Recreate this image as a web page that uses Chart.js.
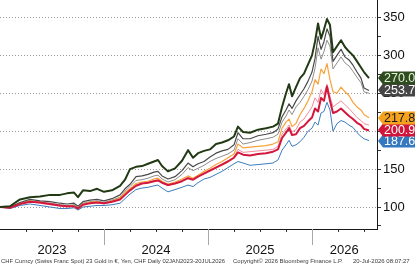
<!DOCTYPE html>
<html>
<head>
<meta charset="utf-8">
<script src="https://cdn.jsdelivr.net/npm/chart.js@4"></script>
<style>
  html, body { margin: 0; padding: 0; background: #fff; }
  canvas { display: block; }
</style>
</head>
<body>
<canvas id="goldChart" width="415" height="266"></canvas>
<script>
// sample dates as decimal years (02 Jan 2023 .. 20 Jul 2026)
const dates = [2023.000, 2023.096, 2023.192, 2023.288, 2023.385, 2023.481, 2023.577, 2023.644, 2023.712, 2023.750,
    2023.798, 2023.865, 2023.933, 2024.000, 2024.077, 2024.154, 2024.202, 2024.250, 2024.308, 2024.365,
    2024.423, 2024.481, 2024.519, 2024.558, 2024.615, 2024.683, 2024.750, 2024.808, 2024.856, 2024.904,
    2024.962, 2025.019, 2025.077, 2025.135, 2025.192, 2025.250, 2025.288, 2025.337, 2025.404, 2025.481,
    2025.558, 2025.625, 2025.673, 2025.712, 2025.750, 2025.779, 2025.808, 2025.846, 2025.885, 2025.923,
    2025.962, 2026.000, 2026.029, 2026.058, 2026.087, 2026.115, 2026.144, 2026.173, 2026.202, 2026.240,
    2026.279, 2026.317, 2026.356, 2026.394, 2026.433, 2026.471, 2026.500, 2026.548];

const seriesGreen = [100, 101, 110, 113, 114, 116, 116, 118, 119, 113, 122, 121, 124, 120, 122, 128, 136, 150, 153, 154,
    157, 160, 162, 154, 147, 151, 161, 175, 165, 171, 174, 176, 183, 185, 188, 193, 206, 199, 198, 202,
    204, 206, 210, 232, 250, 262, 246, 258, 270, 276, 288, 300, 318, 342, 322, 334, 348, 340, 304, 312,
    320, 311, 305, 300, 292, 284, 278, 270.0];

const seriesGray = [100, 100, 106, 110, 108, 107, 105, 104, 105, 101, 107, 109, 110, 108, 111, 116, 124, 130, 140, 141,
    143, 146, 147, 141, 137, 140, 148, 158, 153, 157, 160, 166, 171, 174, 176, 182, 198, 190, 190, 194,
    196, 198, 203, 219, 228, 236, 230, 240, 248, 256, 266, 278, 296, 325, 308, 318, 335, 325, 292, 300,
    308, 298, 294, 287, 278, 270, 257, 253.7];

const seriesLightGray = [100, 99, 105, 108, 106, 105, 103, 102, 103, 99, 105, 107, 108, 106, 109, 113, 121, 127, 135, 136,
    138, 141, 142, 137, 133, 136, 143, 152, 148, 151, 155, 160, 164, 167, 170, 175, 190, 183, 185, 188,
    190, 192, 196, 212, 220, 228, 222, 232, 238, 246, 255, 266, 283, 310, 295, 305, 320, 312, 282, 290,
    298, 290, 286, 279, 271, 264, 252, 250];

const seriesOrange = [100, 100, 105, 108, 106, 104, 102, 101, 102, 98, 104, 106, 107, 105, 108, 112, 119, 124, 131, 133,
    134, 137, 138, 134, 130, 133, 137, 141, 138, 142, 147, 151, 156, 160, 165, 170, 183, 178, 179, 180,
    181, 183, 186, 204, 212, 216, 206, 210, 222, 230, 240, 252, 268, 262, 282, 276, 289, 268, 252, 250,
    258, 252, 247, 238, 232, 228, 222, 217.8];

const seriesPink = [100, 99, 104, 107, 105, 103, 101, 100, 101, 97, 103, 105, 106, 104, 107, 111, 117, 122, 129, 131,
    132, 135, 136, 132, 128, 131, 135, 139, 136, 140, 145, 149, 153, 157, 161, 166, 176, 172, 173, 174,
    175, 176, 180, 196, 203, 208, 199, 202, 212, 216, 224, 232, 244, 238, 255, 248, 262, 246, 232, 236,
    240, 235, 230, 224, 218, 214, 210, 208];

const seriesRed = [100, 99, 104, 107, 106, 104, 102, 101, 101, 98, 103, 105, 106, 105, 107, 110, 116, 122, 128, 131,
    132, 134, 135, 132, 129, 131, 134, 138, 136, 140, 144, 148, 152, 156, 160, 165, 172, 169, 168, 170,
    171, 173, 176, 191, 198, 204, 195, 196, 204, 207, 213, 218, 230, 226, 244, 240, 259, 240, 224, 226,
    230, 225, 220, 216, 211, 208, 203, 200.9];

const seriesBlue = [100, 98, 102, 104, 102, 100, 98, 98, 99, 96, 100, 101, 102, 102, 103, 105, 111, 117, 123, 125,
    126, 128, 129, 125, 120, 123, 126, 129, 127, 132, 137, 139, 143, 147, 152, 157, 160, 158, 155, 156,
    157, 158, 162, 175, 182, 188, 180, 182, 186, 192, 200, 204, 212, 208, 224, 226, 238, 228, 200, 210,
    214, 212, 208, 205, 198, 193, 190, 187.6];

const yearLabels = ['2023', '2024', '2025', '2026'];
const yearLabelPos = [2023.5, 2024.5, 2025.5, 2026.31];
const yearStarts = [2024, 2025, 2026];
const yTicks = [75, 100, 125, 150, 175, 200, 225, 250, 275, 300, 325, 350];

const footerLeft = 'CHF Curncy (Swiss Franc Spot) 23 Gold in €, Yen, CHF Daily 02JAN2023-20JUL2026';
const footerMid = 'Copyright© 2026 Bloomberg Finance L.P.';
const footerRight = '20-Jul-2026 08:07:27';

function toPoints(values) {
    return values.map((v, i) => ({ x: dates[i], y: v }));
}

// dotted grid, axis line, year separators, end-value tags and the footer line
const bloombergDecor = {
    id: 'bloombergDecor',
    beforeDraw(chart) {
        const ctx = chart.ctx;
        ctx.save();
        ctx.fillStyle = '#fff';
        ctx.fillRect(0, 0, chart.width, chart.height);
        ctx.restore();
    },
    beforeDatasetsDraw(chart) {
        const ctx = chart.ctx;
        const ys = chart.scales.y;
        const area = chart.chartArea;
        ctx.save();
        ctx.strokeStyle = '#9a9a9a';
        ctx.lineWidth = 1;
        ctx.setLineDash([1, 2]);
        yTicks.filter(v => v % 50 === 0).forEach(v => {
            const py = Math.round(ys.getPixelForValue(v)) + 0.5;
            ctx.beginPath();
            ctx.moveTo(area.left, py);
            ctx.lineTo(area.right, py);
            ctx.stroke();
        });
        ctx.restore();
    },
    afterDraw(chart) {
        const ctx = chart.ctx;
        const xs = chart.scales.x;
        const ys = chart.scales.y;
        const area = chart.chartArea;

        ctx.save();
        ctx.strokeStyle = '#a8a8a8';
        ctx.lineWidth = 1;
        yearStarts.forEach(v => {
            const px = Math.round(xs.getPixelForValue(v)) + 0.5;
            ctx.beginPath();
            ctx.moveTo(px, area.bottom);
            ctx.lineTo(px, area.bottom + 16);
            ctx.stroke();
        });

        chart.data.datasets.filter(d => d.tag).sort((a, b) => a.tagOrder - b.tagOrder).forEach(d => {
            const last = d.data[d.data.length - 1].y;
            const y = Math.round(ys.getPixelForValue(last));
            const left = area.right + 1;
            ctx.fillStyle = d.tag.bg;
            ctx.beginPath();
            ctx.moveTo(left, y);
            ctx.lineTo(left + 5, y - 6.5);
            ctx.lineTo(chart.width, y - 6.5);
            ctx.lineTo(chart.width, y + 6.5);
            ctx.lineTo(left + 5, y + 6.5);
            ctx.closePath();
            ctx.fill();
            ctx.fillStyle = d.tag.fg;
            ctx.font = '12.5px "Liberation Sans", Arial, sans-serif';
            ctx.textBaseline = 'middle';
            ctx.textAlign = 'left';
            ctx.fillText(last.toFixed(1), left + 6, y + 1);
        });

        ctx.fillStyle = '#3a3a3a';
        ctx.font = '6px "Liberation Sans", Arial, sans-serif';
        ctx.textBaseline = 'middle';
        ctx.textAlign = 'left';
        ctx.fillText(footerLeft, 1, 261, 224);
        ctx.fillText(footerMid, 233, 261, 110);
        ctx.fillText(footerRight, 353, 261, 60);
        ctx.restore();
    }
};

document.addEventListener('DOMContentLoaded', () => {
    const ctx = document.getElementById('goldChart').getContext('2d');

    new Chart(ctx, {
        type: 'line',
        data: {
            datasets: [
                { label: 'green', data: toPoints(seriesGreen), borderColor: '#223a14', borderWidth: 2,
                  tag: { bg: '#2e4a1f', fg: '#e3f2d6' }, tagOrder: 5 },
                { label: 'red', data: toPoints(seriesRed), borderColor: '#d3173d', borderWidth: 2,
                  tag: { bg: '#d0143a', fg: '#ffffff' }, tagOrder: 2 },
                { label: 'gray', data: toPoints(seriesGray), borderColor: '#4a4a4a', borderWidth: 1.2,
                  tag: { bg: '#454545', fg: '#ffffff' }, tagOrder: 4 },
                { label: 'orange', data: toPoints(seriesOrange), borderColor: '#f8a33a', borderWidth: 1.2,
                  tag: { bg: '#f5a21f', fg: '#1a1a1a' }, tagOrder: 3 },
                { label: 'blue', data: toPoints(seriesBlue), borderColor: '#3c7dc0', borderWidth: 1,
                  tag: { bg: '#3478c0', fg: '#ffffff' }, tagOrder: 1 },
                { label: 'pink', data: toPoints(seriesPink), borderColor: '#f28c9c', borderWidth: 1 },
                { label: 'lightgray', data: toPoints(seriesLightGray), borderColor: '#8e8e8e', borderWidth: 1 }
            ]
        },
        options: {
            responsive: false,
            animation: false,
            layout: { padding: 0 },
            elements: {
                point: { radius: 0 },
                line: { tension: 0, borderJoinStyle: 'round' }
            },
            plugins: {
                legend: { display: false },
                tooltip: { enabled: false }
            },
            scales: {
                x: {
                    type: 'linear',
                    position: 'bottom',
                    min: 2023.0,
                    max: 2026.625,
                    afterBuildTicks: (scale) => {
                        const vals = [];
                        for (let q = 2023.25; q < 2026.6; q += 0.25) vals.push(q);
                        vals.push(2026.31);
                        scale.ticks = vals.map(v => ({ value: v }));
                    },
                    afterFit: (scale) => {
                        scale.height = 37;
                        scale.paddingLeft = 0;
                        scale.paddingRight = 0;
                    },
                    border: { display: true, color: '#1a1a1a', width: 1 },
                    grid: {
                        drawOnChartArea: false,
                        drawTicks: true,
                        tickLength: 3,
                        tickColor: (c) => Math.abs(c.tick.value - 2026.31) < 0.001 ? 'rgba(0,0,0,0)' : '#333'
                    },
                    ticks: {
                        autoSkip: false,
                        maxRotation: 0,
                        padding: 11,
                        color: '#111',
                        font: { family: '"Liberation Sans", Arial, sans-serif', size: 13 },
                        callback: (value) => {
                            const i = yearLabelPos.findIndex(p => Math.abs(p - value) < 0.001);
                            return i >= 0 ? yearLabels[i] : '';
                        }
                    }
                },
                y: {
                    position: 'right',
                    min: 71,
                    max: 373,
                    afterBuildTicks: (scale) => {
                        scale.ticks = yTicks.map(v => ({ value: v }));
                    },
                    afterFit: (scale) => {
                        scale.width = 38;
                        scale.paddingTop = 0;
                        scale.paddingBottom = 0;
                    },
                    border: { display: true, color: '#1a1a1a', width: 1 },
                    grid: {
                        drawOnChartArea: false,
                        drawTicks: true,
                        tickLength: 4,
                        tickColor: '#333'
                    },
                    ticks: {
                        padding: 2,
                        color: '#111',
                        font: { family: '"Liberation Sans", Arial, sans-serif', size: 13 },
                        callback: (value) => value % 50 === 0 ? String(value) : ''
                    }
                }
            }
        },
        plugins: [bloombergDecor]
    });
});
</script>
</body>
</html>
